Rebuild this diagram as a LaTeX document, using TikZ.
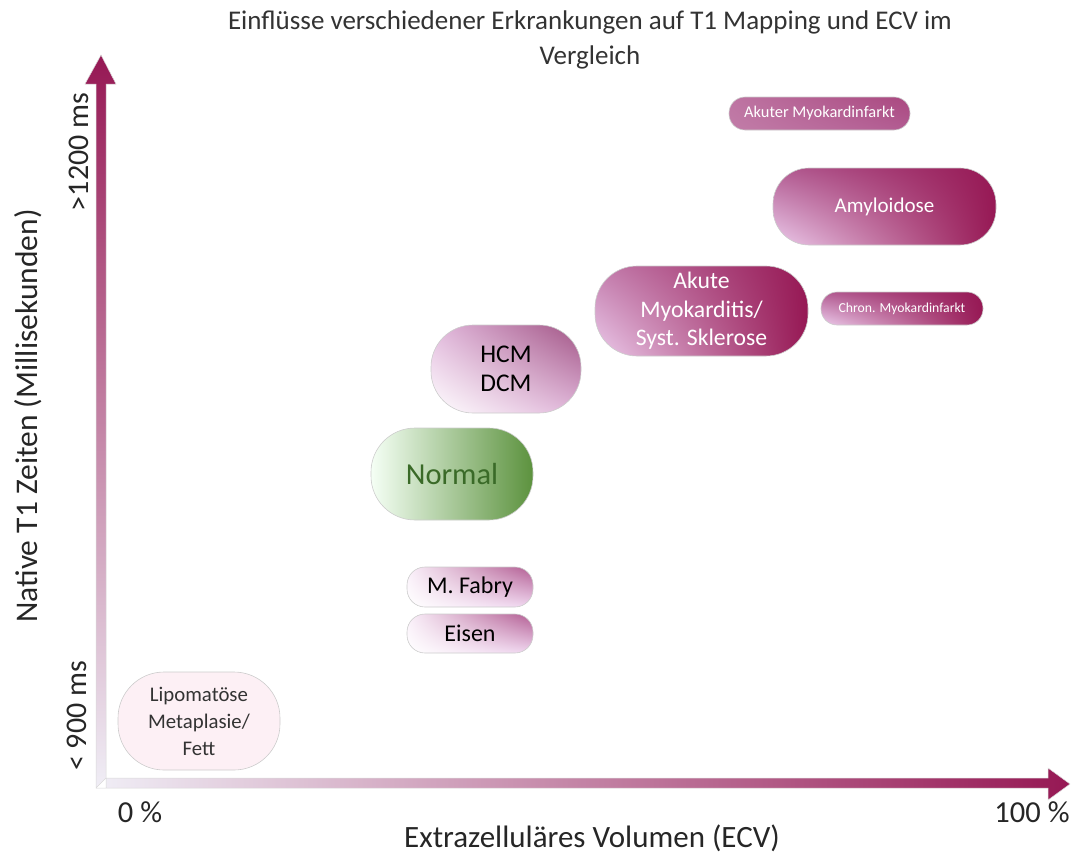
\documentclass[tikz,border=0pt]{standalone}
\usepackage{fontspec}
\setmainfont{Carlito}
\usetikzlibrary{calc,shadings}

\definecolor{magdark}{RGB}{150,24,84}
\definecolor{magmid}{RGB}{178,92,146}
\definecolor{lilac}{RGB}{236,204,236}
\definecolor{lilacpale}{RGB}{250,240,250}
\definecolor{axislight}{RGB}{240,238,246}
\definecolor{greendark}{RGB}{92,146,62}
\definecolor{greentext}{RGB}{58,106,40}
\definecolor{fatpink}{RGB}{253,240,245}

\tikzset{
  pill/.style={rectangle, rounded corners=#1, draw=gray!40, line width=0.6pt,
    align=center, inner sep=0pt},
  pill/.default=16pt,
  darkpill/.style={pill=#1, upper right=magdark, lower left=lilac,
    upper left=magmid, lower right=magdark, text=white},
  lightpill/.style={pill=#1, upper right=magmid!90!black, lower left=white,
    upper left=lilac!85!magmid, lower right=lilac!80!magmid, text=black},
}

\begin{document}
\begin{tikzpicture}[x=1pt,y=-1pt]
\useasboundingbox (0,0) rectangle (1071,855);
\coordinate (O) at (96,788);
% axes
\shade[left color=axislight, right color=magdark, draw=gray!30, line width=0.5pt]
  (O) -- (1048,788) -- (1048,800) -- (1070,784) -- (1048,768) -- (1048,778)
  -- (106,778) -- (106,788) -- cycle;
\shade[bottom color=axislight, top color=magdark, draw=gray!30, line width=0.5pt]
  (O) -- (96,84) -- (85,84) -- (101,55) -- (116,84) -- (106,84) -- (106,778) -- cycle;

\node[text=black!80, font={\fontsize{27}{35}\selectfont}, align=center] (title) at (590,40)
  {Einflüsse verschiedener Erkrankungen auf T1 Mapping und ECV im\\Vergleich};
\node[text=black!85, font={\fontsize{31}{36}\selectfont}] (xlab) at (592,838) {Extrazelluläres Volumen (ECV)};
\node[text=black!85, font={\fontsize{31.5}{36}\selectfont}, rotate=90] (ylab) at (28,416) {Native T1 Zeiten (Millisekunden)};
\node[text=black!85, font={\fontsize{30}{34}\selectfont}, rotate=90] (ymax) at (79,152) {>1200 ms};
\node[text=black!85, font={\fontsize{30}{34}\selectfont}, rotate=90] (ymin) at (77,716) {< 900 ms};
\node[text=black!85, font={\fontsize{30.5}{34}\selectfont}] (xmin) at (140,812) {0 \%};
\node[text=black!85, font={\fontsize{30.5}{34}\selectfont}] (xmax) at (1032,812) {100 \%};

% diseases
\node[darkpill=16pt, upper left=magmid!85!white, lower left=magmid!80!white, upper right=magmid!70!magdark,
  lower right=magmid, minimum width=181pt, minimum height=33pt,
  font={\fontsize{16.4}{18}\selectfont}] (akmi) at (819.5,113.5) {Akuter Myokardinfarkt};
\node[darkpill=36pt, minimum width=223pt, minimum height=77pt,
  font={\fontsize{21}{25}\selectfont}] (amyl) at (884.5,206.5) {Amyloidose};
\node[darkpill=42pt, upper left=magmid!70!lilac, minimum width=213pt, minimum height=90pt,
  font={\fontsize{23.7}{28.5}\selectfont}] (myok) at (701.5,311) {Akute\\Myokarditis/\\Syst. Sklerose};
\node[darkpill=16pt, minimum width=162pt, minimum height=33pt,
  font={\fontsize{13.7}{16}\selectfont}] (chmi) at (902,308.5) {Chron. Myokardinfarkt};
\node[lightpill=42pt, minimum width=150pt, minimum height=88pt,
  font={\fontsize{25.5}{28.5}\selectfont}] (hcm) at (506,369) {HCM\\DCM};
\node[pill=44pt, left color=green!4!white, right color=greendark, text=greentext,
  minimum width=162pt, minimum height=92pt,
  font={\fontsize{30.5}{34}\selectfont}] (norm) at (452,474) {Normal};
\node[lightpill=18pt, upper right=magmid, upper left=lilacpale, lower right=lilac!80!white,
  minimum width=126pt, minimum height=40pt,
  font={\fontsize{24}{26}\selectfont}] (fabr) at (470,587) {M. Fabry};
\node[lightpill=18pt, upper right=magmid, upper left=lilacpale, lower right=lilac!80!white,
  minimum width=126pt, minimum height=39pt,
  font={\fontsize{24}{26}\selectfont}] (eise) at (470,633.5) {Eisen};
\node[pill=46pt, fill=fatpink, text=black!80, minimum width=162pt, minimum height=98pt,
  font={\fontsize{20.8}{27}\selectfont}] (lipo) at (199,721) {Lipomatöse\\Metaplasie/\\Fett};
\end{tikzpicture}
\end{document}
